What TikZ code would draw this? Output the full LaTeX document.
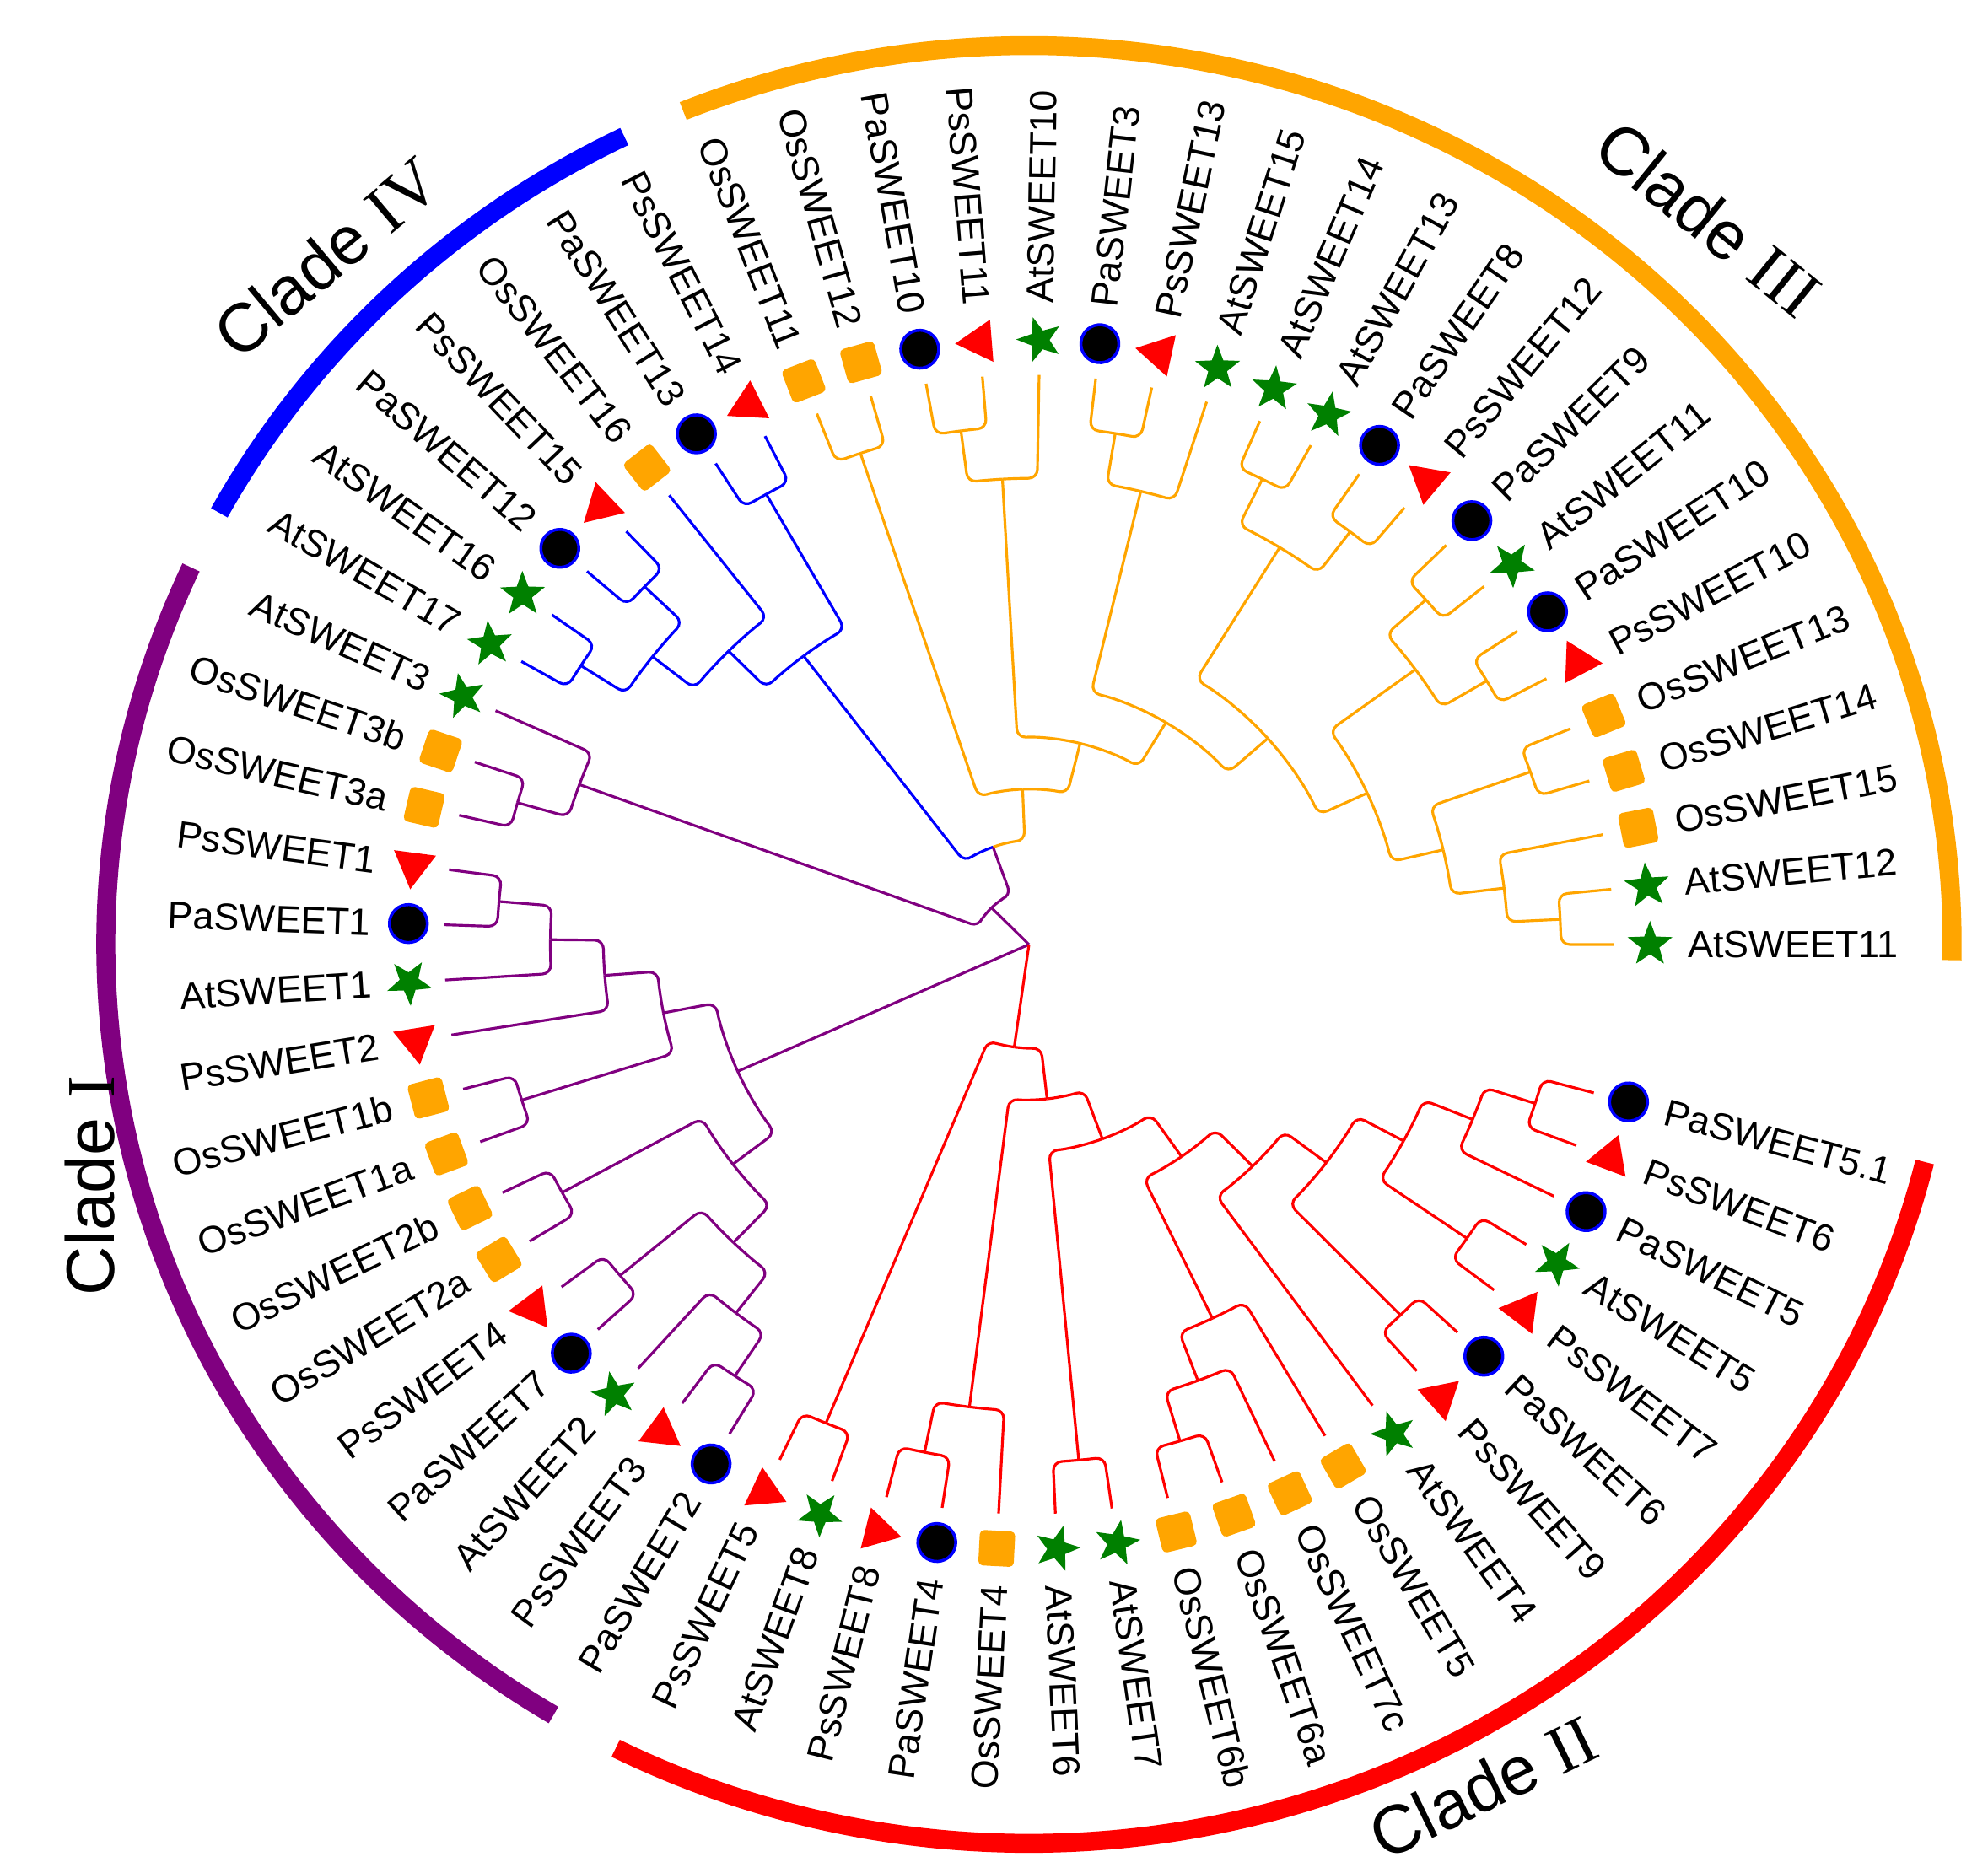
\documentclass[tikz,border=0pt]{standalone}
\usepackage{fontspec}
\setmainfont{Liberation Sans}
\newfontfamily\romanfont{Liberation Serif}
\usetikzlibrary{shapes.geometric}

\definecolor{cladeI}{RGB}{128,0,128}
\definecolor{cladeII}{RGB}{255,0,0}
\definecolor{cladeIII}{RGB}{255,165,0}
\definecolor{cladeIV}{RGB}{0,0,255}
\definecolor{atgreen}{RGB}{0,128,0}

\tikzset{
  branchline/.style={line width=0.9pt, rounded corners=3pt},
  band/.style={line width=6.4pt},
  pamark/.style={circle, fill=black, draw=blue, line width=1pt, minimum size=0.45cm, inner sep=0pt},
  psmark/.style={regular polygon, regular polygon sides=3, fill=red, minimum size=0.58cm, inner sep=0pt},
  atmark/.style={star, star points=5, star point ratio=2.4, fill=atgreen, minimum size=0.56cm, inner sep=0pt},
  osmark/.style={rectangle, rounded corners=1.5pt, fill=cladeIII, minimum size=0.42cm, inner sep=0pt},
  genename/.style={inner sep=0pt, font=\fontsize{12.8}{14}\selectfont},
  cladename/.style={inner sep=0pt, font=\fontsize{23}{26}\selectfont},
}

\def\leafstep{5.563}
\def\tipr{455}

% leaf: name, position, marker, gene
\newcommand{\sweetleaf}[4]{%
  \pgfmathsetmacro\lfang{#2*\leafstep}%
  \pgfmathtruncatemacro\lfflip{and(\lfang>90,\lfang<270)}%
  \expandafter\xdef\csname idx@#1\endcsname{#2}%
  \expandafter\xdef\csname ang@#1\endcsname{\lfang}%
  \coordinate (#1) at (\lfang:\tipr);
  \node[#3, rotate=\lfang] (m#1) at (\lfang:483) {};
  \ifnum\lfflip=1
    \node[genename, anchor=east, rotate=\lfang+180] (t#1) at (\lfang:512) {#4};
  \else
    \node[genename, anchor=west, rotate=\lfang] (t#1) at (\lfang:512) {#4};
  \fi}

% inner node: name, child, child, height
\newcommand{\setclade}[4]{%
  \edef\ndA{\csname idx@#2\endcsname}%
  \edef\ndB{\csname idx@#3\endcsname}%
  \pgfmathsetmacro\ndidx{(\ndA+\ndB)/2}%
  \pgfmathsetmacro\ndang{\ndidx*\leafstep}%
  \pgfmathsetmacro\ndrad{\tipr*(1-#4/11)}%
  \expandafter\xdef\csname idx@#1\endcsname{\ndidx}%
  \expandafter\xdef\csname ang@#1\endcsname{\ndang}%
  \expandafter\xdef\csname rad@#1\endcsname{\ndrad}%
  \coordinate (#1) at (\ndang:\ndrad);}

% branch: child, parent, colour
\newcommand{\treebranch}[3]{%
  \edef\brA{\csname ang@#1\endcsname}%
  \edef\brP{\csname ang@#2\endcsname}%
  \edef\brR{\csname rad@#2\endcsname}%
  \draw[branchline, #3] (#1) -- (\brA:\brR) arc[start angle=\brA, end angle=\brP, radius=\brR];}

\newcommand{\clade}[5]{%
  \setclade{#1}{#2}{#3}{#4}%
  \treebranch{#2}{#1}{#5}%
  \treebranch{#3}{#1}{#5}}

\begin{document}
\begin{tikzpicture}[x=0.01525cm, y=0.01484cm]
 \useasboundingbox (-12.20cm,-11.01cm) rectangle (11.37cm,11.20cm);

 % clade bands
 \draw[band, cladeIII] (-1:718) arc[start angle=-1, end angle=112, radius=718];
 \draw[band, cladeIV] (116:718) arc[start angle=116, end angle=151.3, radius=718];
 \draw[band, cladeI] (155.2:718) arc[start angle=155.2, end angle=239, radius=718];
 \draw[band, cladeII] (243.4:718) arc[start angle=243.4, end angle=346, radius=718];

 \node[cladename, rotate=40] (nameIV) at (-8.33cm,8.15cm) {Clade {\romanfont IV}};
 \node[cladename, rotate=-39] (nameIII) at (8.06cm,8.61cm) {Clade {\romanfont III}};
 \node[cladename, rotate=90] (nameI) at (-11.13cm,-2.86cm) {Clade {\romanfont I}};
 \node[cladename, rotate=26] (nameII) at (5.38cm,-9.99cm) {Clade {\romanfont II}};

 % leaves
 \sweetleaf{at11}{0}{atmark}{AtSWEET11}
 \sweetleaf{at12}{1}{atmark}{AtSWEET12}
 \sweetleaf{os15}{2}{osmark}{OsSWEET15}
 \sweetleaf{os14}{3}{osmark}{OsSWEET14}
 \sweetleaf{os13}{4}{osmark}{OsSWEET13}
 \sweetleaf{ps10}{5}{psmark}{PsSWEET10}
 \sweetleaf{pa10b}{6}{pamark}{PaSWEET10}
 \sweetleaf{at11b}{7}{atmark}{AtSWEET11}
 \sweetleaf{pa9}{8}{pamark}{PaSWEET9}
 \sweetleaf{ps12}{9}{psmark}{PsSWEET12}
 \sweetleaf{pa8}{10}{pamark}{PaSWEET8}
 \sweetleaf{at13}{11}{atmark}{AtSWEET13}
 \sweetleaf{at14}{12}{atmark}{AtSWEET14}
 \sweetleaf{at15}{13}{atmark}{AtSWEET15}
 \sweetleaf{ps13}{14}{psmark}{PsSWEET13}
 \sweetleaf{pa3}{15}{pamark}{PaSWEET3}
 \sweetleaf{at10}{16}{atmark}{AtSWEET10}
 \sweetleaf{ps11}{17}{psmark}{PsSWEET11}
 \sweetleaf{pa10}{18}{pamark}{PaSWEET10}
 \sweetleaf{os12}{19}{osmark}{OsSWEET12}
 \sweetleaf{os11}{20}{osmark}{OsSWEET11}
 \sweetleaf{ps14}{21}{psmark}{PsSWEET14}
 \sweetleaf{pa13}{22}{pamark}{PaSWEET13}
 \sweetleaf{os16}{23}{osmark}{OsSWEET16}
 \sweetleaf{ps15}{24}{psmark}{PsSWEET15}
 \sweetleaf{pa12}{25}{pamark}{PaSWEET12}
 \sweetleaf{at16}{26}{atmark}{AtSWEET16}
 \sweetleaf{at17}{27}{atmark}{AtSWEET17}
 \sweetleaf{at3}{28}{atmark}{AtSWEET3}
 \sweetleaf{os3b}{29}{osmark}{OsSWEET3b}
 \sweetleaf{os3a}{30}{osmark}{OsSWEET3a}
 \sweetleaf{ps1}{31}{psmark}{PsSWEET1}
 \sweetleaf{pa1}{32}{pamark}{PaSWEET1}
 \sweetleaf{at1}{33}{atmark}{AtSWEET1}
 \sweetleaf{ps2}{34}{psmark}{PsSWEET2}
 \sweetleaf{os1b}{35}{osmark}{OsSWEET1b}
 \sweetleaf{os1a}{36}{osmark}{OsSWEET1a}
 \sweetleaf{os2b}{37}{osmark}{OsSWEET2b}
 \sweetleaf{os2a}{38}{osmark}{OsSWEET2a}
 \sweetleaf{ps4}{39}{psmark}{PsSWEET4}
 \sweetleaf{pa7}{40}{pamark}{PaSWEET7}
 \sweetleaf{at2}{41}{atmark}{AtSWEET2}
 \sweetleaf{ps3}{42}{psmark}{PsSWEET3}
 \sweetleaf{pa2}{43}{pamark}{PaSWEET2}
 \sweetleaf{ps5}{44}{psmark}{PsSWEET5}
 \sweetleaf{at8}{45}{atmark}{AtSWEET8}
 \sweetleaf{ps8}{46}{psmark}{PsSWEET8}
 \sweetleaf{pa4}{47}{pamark}{PaSWEET4}
 \sweetleaf{os4}{48}{osmark}{OsSWEET4}
 \sweetleaf{at6}{49}{atmark}{AtSWEET6}
 \sweetleaf{at7}{50}{atmark}{AtSWEET7}
 \sweetleaf{os6b}{51}{osmark}{OsSWEET6b}
 \sweetleaf{os6a}{52}{osmark}{OsSWEET6a}
 \sweetleaf{os7c}{53}{osmark}{OsSWEET7c}
 \sweetleaf{os5}{54}{osmark}{OsSWEET5}
 \sweetleaf{at4}{55}{atmark}{AtSWEET4}
 \sweetleaf{ps9}{56}{psmark}{PsSWEET9}
 \sweetleaf{pa6}{57}{pamark}{PaSWEET6}
 \sweetleaf{ps7}{58}{psmark}{PsSWEET7}
 \sweetleaf{at5}{59}{atmark}{AtSWEET5}
 \sweetleaf{pa5}{60}{pamark}{PaSWEET5}
 \sweetleaf{ps6}{61}{psmark}{PsSWEET6}
 \sweetleaf{pa51}{62}{pamark}{PaSWEET5.1}

 % clade III
 \clade{c3a}{at12}{at11}{1}{cladeIII}
 \clade{c3b}{os15}{c3a}{2}{cladeIII}
 \clade{c3c}{os13}{os14}{1}{cladeIII}
 \clade{c3d}{c3c}{c3b}{3}{cladeIII}
 \clade{c3e}{pa10b}{ps10}{1}{cladeIII}
 \clade{c3f}{pa9}{at11b}{1}{cladeIII}
 \clade{c3g}{c3f}{c3e}{2}{cladeIII}
 \clade{c3h}{c3g}{c3d}{4}{cladeIII}
 \clade{c3i}{pa8}{ps12}{1}{cladeIII}
 \clade{c3j}{at14}{at13}{1}{cladeIII}
 \clade{c3k}{c3j}{c3i}{2}{cladeIII}
 \clade{c3l}{c3k}{c3h}{5}{cladeIII}
 \clade{c3m}{pa3}{ps13}{1}{cladeIII}
 \clade{c3n}{at15}{c3m}{2}{cladeIII}
 \clade{c3o}{c3n}{c3l}{6}{cladeIII}
 \clade{c3p}{pa10}{ps11}{1}{cladeIII}
 \clade{c3q}{c3p}{at10}{2}{cladeIII}
 \clade{c3r}{c3q}{c3o}{7}{cladeIII}
 \clade{c3s}{os11}{os12}{1}{cladeIII}
 \clade{c3}{c3s}{c3r}{8}{cladeIII}

 % clade IV
 \clade{c4a}{ps14}{pa13}{1}{cladeIV}
 \clade{c4b}{ps15}{pa12}{1}{cladeIV}
 \clade{c4c}{at16}{at17}{1}{cladeIV}
 \clade{c4d}{c4b}{c4c}{2}{cladeIV}
 \clade{c4e}{os16}{c4d}{3}{cladeIV}
 \clade{c4}{c4a}{c4e}{4}{cladeIV}

 \setclade{c34}{c3}{c4}{9}
 \treebranch{c3}{c34}{cladeIII}
 \treebranch{c4}{c34}{cladeIV}

 % clade I
 \clade{c1a}{os3b}{os3a}{1}{cladeI}
 \clade{c1b}{at3}{c1a}{2}{cladeI}
 \clade{ca}{c34}{c1b}{10}{cladeI}
 \clade{c1c}{ps1}{pa1}{1}{cladeI}
 \clade{c1d}{c1c}{at1}{2}{cladeI}
 \clade{c1e}{c1d}{ps2}{3}{cladeI}
 \clade{c1f}{os1b}{os1a}{1}{cladeI}
 \clade{c1g}{c1e}{c1f}{4}{cladeI}
 \clade{c1h}{os2b}{os2a}{1}{cladeI}
 \clade{c1i}{ps4}{pa7}{1}{cladeI}
 \clade{c1j}{ps3}{pa2}{1}{cladeI}
 \clade{c1k}{at2}{c1j}{2}{cladeI}
 \clade{c1l}{c1i}{c1k}{3}{cladeI}
 \clade{c1m}{c1h}{c1l}{4}{cladeI}
 \clade{c1}{c1g}{c1m}{5}{cladeI}

 % clade II
 \clade{c2a}{ps5}{at8}{1}{cladeII}
 \clade{c2b}{ps8}{pa4}{1}{cladeII}
 \clade{c2c}{c2b}{os4}{2}{cladeII}
 \clade{c2d}{at6}{at7}{1}{cladeII}
 \clade{c2e}{os6b}{os6a}{1}{cladeII}
 \clade{c2f}{c2e}{os7c}{2}{cladeII}
 \clade{c2g}{c2f}{os5}{3}{cladeII}
 \clade{c2h}{ps9}{pa6}{1}{cladeII}
 \clade{c2i}{ps7}{at5}{1}{cladeII}
 \clade{c2j}{ps6}{pa51}{1}{cladeII}
 \clade{c2k}{pa5}{c2j}{2}{cladeII}
 \clade{c2l}{c2i}{c2k}{3}{cladeII}
 \clade{c2m}{c2h}{c2l}{4}{cladeII}
 \clade{c2n}{at4}{c2m}{5}{cladeII}
 \clade{c2o}{c2g}{c2n}{6}{cladeII}
 \clade{c2p}{c2d}{c2o}{7}{cladeII}
 \clade{c2q}{c2c}{c2p}{8}{cladeII}
 \clade{c2}{c2a}{c2q}{9}{cladeII}

 % root
 \coordinate (root) at (0,0);
 \draw[branchline, cladeI] (ca) -- (root);
 \draw[branchline, cladeI] (c1) -- (root);
 \draw[branchline, cladeII] (c2) -- (root);
\end{tikzpicture}
\end{document}
